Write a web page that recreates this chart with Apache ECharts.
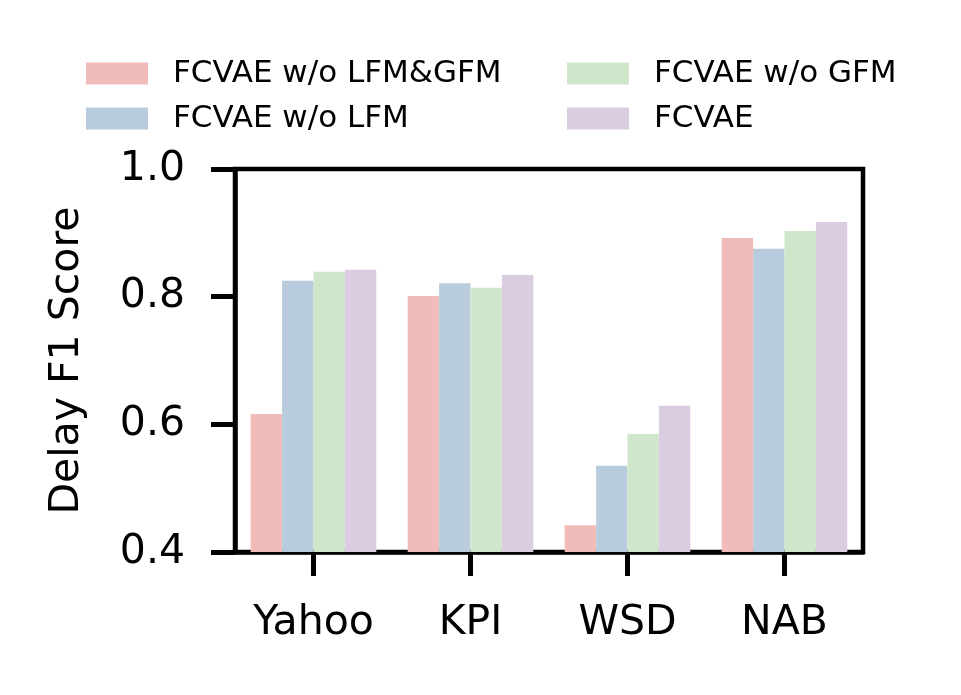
<!DOCTYPE html>
<html><head><meta charset="utf-8">
<script src="https://cdn.jsdelivr.net/npm/echarts@6/dist/echarts.min.js"></script>
<style>html,body{margin:0;padding:0;background:#fff}#c{width:961px;height:695px}</style>
</head><body><div id="c"></div>
<script>
const categories = ['Yahoo', 'KPI', 'WSD', 'NAB'];
const seriesNames = ['FCVAE w/o LFM&GFM', 'FCVAE w/o LFM', 'FCVAE w/o GFM', 'FCVAE'];
const woLfmGfm = [0.616, 0.801, 0.442, 0.892];
const woLfm = [0.825, 0.821, 0.535, 0.875];
const woGfm = [0.839, 0.814, 0.585, 0.903];
const fcvae = [0.842, 0.834, 0.629, 0.917];
const yTicks = [0.4, 0.6, 0.8, 1.0];
const colors = ['#F0BBB8', '#B9CCDD', '#D0E6CB', '#DBCDE1'];

const font = 'DejaVu Sans';
const allData = [woLfmGfm, woLfm, woGfm, fcvae];
const chart = echarts.init(document.getElementById('c'), null, {renderer: 'canvas'});
const legendText = {fontFamily: font, fontSize: 31, color: '#000', padding: [0, 0, 0, 20]};
chart.setOption({
  animation: false,
  backgroundColor: '#fff',
  legend: [
    {orient: 'vertical', left: 86, top: 58, padding: 0, itemWidth: 62, itemHeight: 22, itemGap: 14,
     textStyle: legendText, data: [seriesNames[0], seriesNames[1]], icon: 'rect'},
    {orient: 'vertical', left: 567, top: 58, padding: 0, itemWidth: 62, itemHeight: 22, itemGap: 14,
     textStyle: legendText, data: [seriesNames[2], seriesNames[3]], icon: 'rect'}
  ],
  grid: {left: 235, right: 98, top: 169, bottom: 143, show: true, borderColor: '#000', borderWidth: 4.5, containLabel: false},
  xAxis: {
    type: 'category', data: categories,
    axisLine: {lineStyle: {color: '#000', width: 4.5}},
    axisTick: {show: true, alignWithLabel: true, interval: 0, length: 24, lineStyle: {color: '#000', width: 5}},
    axisLabel: {fontFamily: font, fontSize: 41, color: '#000', margin: 51, interval: 0}
  },
  yAxis: {
    type: 'value', min: yTicks[0], max: yTicks[yTicks.length - 1], interval: 0.2,
    name: 'Delay F1 Score', nameLocation: 'middle', nameGap: 147,
    nameTextStyle: {fontFamily: font, fontSize: 41, color: '#000'},
    axisLine: {show: true, lineStyle: {color: '#000', width: 4.5}},
    axisTick: {show: true, length: 24, lineStyle: {color: '#000', width: 5}},
    splitLine: {show: false},
    axisLabel: {fontFamily: font, fontSize: 41, color: '#000', margin: 50,
      formatter: v => v.toFixed(1)}
  },
  series: seriesNames.map((n, i) => ({
    name: n, type: 'bar', data: allData[i],
    itemStyle: {color: colors[i]},
    barGap: '0%', barCategoryGap: '20%'
  }))
});
</script></body></html>
